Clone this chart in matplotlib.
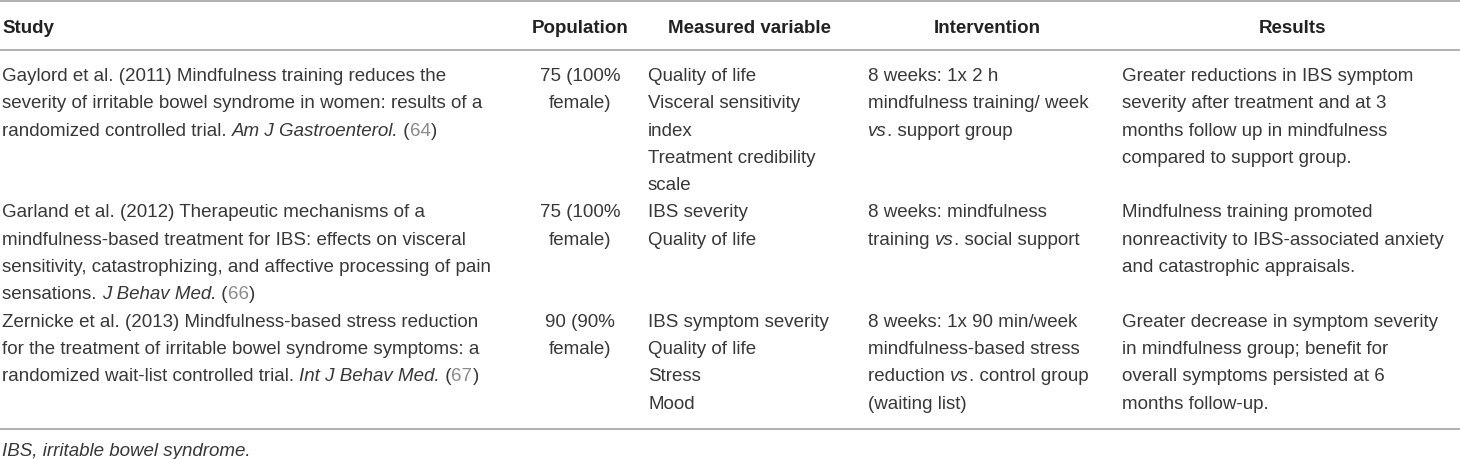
import re
import matplotlib
matplotlib.use("Agg")
import matplotlib.pyplot as plt

# table content (markup: *italic*, [grey reference number])
headers = ["Study", "Population", "Measured variable", "Intervention", "Results"]

studies = [
    "Gaylord et al. (2011) Mindfulness training reduces the\n"
    "severity of irritable bowel syndrome in women: results of a\n"
    "randomized controlled trial. *Am J Gastroenterol.* ([64])",
    "Garland et al. (2012) Therapeutic mechanisms of a\n"
    "mindfulness-based treatment for IBS: effects on visceral\n"
    "sensitivity, catastrophizing, and affective processing of pain\n"
    "sensations. *J Behav Med.* ([66])",
    "Zernicke et al. (2013) Mindfulness-based stress reduction\n"
    "for the treatment of irritable bowel syndrome symptoms: a\n"
    "randomized wait-list controlled trial. *Int J Behav Med.* ([67])",
]
populations = ["75 (100%\nfemale)", "75 (100%\nfemale)", "90 (90%\nfemale)"]
measured = [
    "Quality of life\nVisceral sensitivity\nindex\nTreatment credibility\nscale",
    "IBS severity\nQuality of life",
    "IBS symptom severity\nQuality of life\nStress\nMood",
]
interventions = [
    "8 weeks: 1x 2 h\nmindfulness training/ week\n*vs*. support group",
    "8 weeks: mindfulness\ntraining *vs*. social support",
    "8 weeks: 1x 90 min/week\nmindfulness-based stress\nreduction *vs*. control group\n(waiting list)",
]
results = [
    "Greater reductions in IBS symptom\nseverity after treatment and at 3\n"
    "months follow up in mindfulness\ncompared to support group.",
    "Mindfulness training promoted\nnonreactivity to IBS-associated anxiety\n"
    "and catastrophic appraisals.",
    "Greater decrease in symptom severity\nin mindfulness group; benefit for\n"
    "overall symptoms persisted at 6\nmonths follow-up.",
]
footnote = "IBS, irritable bowel syndrome."

FONT = "Liberation Sans"
SIZE = 13.5
TXT = "#383838"
REF = "#8a8a8a"
RULE = "#9a9a9a"

W, H = 1460, 460
fig = plt.figure(figsize=(W / 100, H / 100), dpi=100)
ax = fig.add_axes([0, 0, 1, 1])
ax.set_xlim(0, W)
ax.set_ylim(H, 0)
ax.axis("off")
renderer = fig.canvas.get_renderer()


def text_width(s, style):
    t = ax.text(0, 0, "x" + s + "x", family=FONT, size=SIZE, style=style)
    t2 = ax.text(0, 0, "xx", family=FONT, size=SIZE, style=style)
    w = t.get_window_extent(renderer).width - t2.get_window_extent(renderer).width
    t.remove()
    t2.remove()
    return w


def rich_line(x, y, line):
    parts = re.split(r"(\*[^*]+\*|\[[^\]]+\])", line)
    for p in parts:
        if not p:
            continue
        style, color = "normal", TXT
        if p.startswith("*"):
            p, style = p[1:-1], "italic"
        elif p.startswith("["):
            p, color = p[1:-1], REF
        ax.text(x, y, p, family=FONT, size=SIZE, style=style, color=color,
                va="baseline", ha="left")
        x += text_width(p, style)


col_left = [2, None, 648, 868, 1122]
head_x = [2, 580, 750, 987, 1292]
pop_center = 580
pitch = 27.3

# rules
for yy in (1.5, 50.5, 430):
    ax.axhline(yy, color=RULE, lw=1.1)

# header
for i, h in enumerate(headers):
    ax.text(head_x[i], 33, h, family=FONT, size=SIZE, weight="bold",
            color="#222222", va="baseline", ha="left" if i == 0 else "center")

# body rows
y0 = 81
for r in range(len(studies)):
    cells = [studies[r], populations[r], measured[r], interventions[r], results[r]]
    nmax = max(c.count("\n") + 1 for c in cells)
    for c, cell in enumerate(cells):
        for k, line in enumerate(cell.split("\n")):
            y = y0 + k * pitch
            if c == 1:
                ax.text(pop_center, y, line, family=FONT, size=SIZE, color=TXT,
                        va="baseline", ha="center")
            else:
                rich_line(col_left[c], y, line)
    y0 += nmax * pitch

ax.text(2, 456, footnote, family=FONT, size=SIZE, style="italic", color=TXT,
        va="baseline", ha="left")

fig.savefig("out.png", dpi=100)
